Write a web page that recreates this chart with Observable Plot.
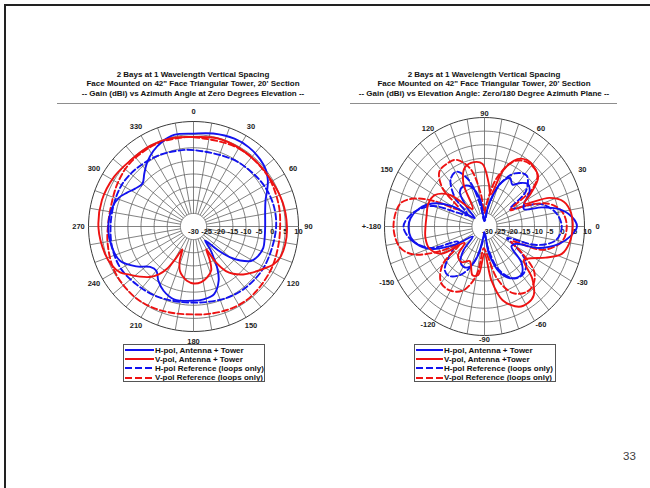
<!DOCTYPE html>
<html>
<head>
<meta charset="utf-8">
<script src="https://cdn.jsdelivr.net/npm/d3@7"></script>
<script src="https://cdn.jsdelivr.net/npm/@observablehq/plot@0.6"></script>
<style>
html,body{margin:0;padding:0;background:#fff;}
#slide{position:relative;width:650px;height:488px;overflow:hidden;background:#fff;font-family:"Liberation Sans",Arial,sans-serif;}
#frame{position:absolute;left:4px;top:4px;width:700px;height:600px;border-top:2px solid #222;border-left:2px solid #222;}
.title{position:absolute;width:340px;text-align:center;font-weight:bold;font-size:8px;line-height:9.3px;color:#111;white-space:nowrap;}
.rule{position:absolute;height:0;border-top:1.5px solid #8d8d8d;}
.chart{position:absolute;}
.legend{position:absolute;border:1px solid #555;background:#fff;overflow:hidden;padding-top:0.5px;box-sizing:border-box;}
.legend .row{display:flex;align-items:center;height:9.2px;font-weight:bold;font-size:8px;color:#111;white-space:nowrap;}
.legend svg{flex:none;display:block;}
#page{position:absolute;left:623px;top:450px;font-size:11.5px;color:#404040;}
</style>
</head>
<body>
<div id="slide">
  <div id="frame"></div>
  <div id="t1" class="title" style="left:23px;top:70px;"></div>
  <div id="t2" class="title" style="left:314px;top:70px;"></div>
  <div class="rule" style="left:57px;top:103px;width:263px;"></div>
  <div class="rule" style="left:350px;top:103px;width:267px;"></div>
  <div id="c1" class="chart" style="left:63px;top:96px;"></div>
  <div id="c2" class="chart" style="left:344px;top:96px;"></div>
  <div id="l1" class="legend" style="left:123px;top:344px;width:142px;height:38px;"></div>
  <div id="l2" class="legend" style="left:414px;top:344px;width:142px;height:38px;"></div>
  <div id="page">33</div>
</div>
<script>
// ---------------- data ----------------
const leftTitle = ["2 Bays at 1 Wavelength Vertical Spacing",
  "Face Mounted on 42\" Face Triangular Tower, 20' Section",
  "-- Gain (dBi) vs Azimuth Angle at Zero Degrees Elevation --"];
const rightTitle = ["2 Bays at 1 Wavelength Vertical Spacing",
  "Face Mounted on 42\" Face Triangular Tower, 20' Section",
  "-- Gain (dBi) vs Elevation Angle: Zero/180 Degree Azimuth Plane --"];
const leftLegend = ["H-pol, Antenna + Tower", "V-pol, Antenna + Tower",
  "H-pol Reference (loops only)", "V-pol Reference (loops only)"];
const rightLegend = ["H-pol, Antenna + Tower", "V-pol, Antenna +Tower",
  "H-pol Reference (loops only)", "V-pol Reference (loops only)"];
const dbTicks = [-30, -25, -20, -15, -10, -5, 0, 5, 10];
const azTickLabels = [[0,"0"],[30,"30"],[60,"60"],[90,"90"],[120,"120"],[150,"150"],
  [180,"180"],[210,"210"],[240,"240"],[270,"270"],[300,"300"],[330,"330"]];
const elTickLabels = [[90,"90"],[60,"60"],[30,"30"],[0,"0"],[-30,"-30"],[-60,"-60"],
  [-90,"-90"],[-120,"-120"],[-150,"-150"],[180,"+-180"],[150,"150"],[120,"120"]];

// Azimuth pattern (degrees clockwise from 0, gain dBi)
const azH_AT = [[0,5.4],[12,6.2],[25,6.9],[35,6.8],[45,6],[52,5],[58,3.4],[64,1.2],[70,-0.8],[78,-2.1],[90,-2.7],[100,-2.5],[107,-2.2],[115,-3],[121,-4.5],[126,-8],[130,-11.7],[134,-17],[138,-22],[141,-23],[144,-19],[147,-16],[150,-12],[155,-7.3],[163,-3.1],[172,-2],[180,-1.7],[195,-1.3],[205,-3],[213,-5.4],[220,-8],[227,-7.4],[235,-3.5],[245,0.9],[256,2.1],[268,2.5],[283,1.8],[291,0.5],[297,-1.6],[303,-3.5],[310,-4.6],[317,-2.5],[324,0.1],[332,2.6],[340,4.5],[348,5.7]];
const azV_AT = [[0,4.1],[15,4.8],[30,4.6],[45,4.4],[60,4.5],[75,5.2],[90,5.6],[101,5.6],[110,5],[116,3.5],[121,1.2],[128,-1.5],[134,-3.7],[140,-6.5],[144,-9],[148,-14],[151,-20],[154,-16],[158,-12],[165,-9.9],[172,-8.6],[180,-8.3],[187,-9.2],[192,-10.5],[197,-12.3],[202,-16],[206,-20.3],[209,-16],[212,-11],[216,-7.5],[221,-4.5],[227,-2],[233,0.5],[238,3],[245,4.5],[253,5.3],[269,6.2],[286,6.3],[302,5.7],[316,4.8],[332,4.9],[346,4.7]];
const azH_REF = [[0,-0.9],[30,-0.4],[50,0.5],[65,1.3],[80,1.6],[95,1.3],[120,1],[140,0.6],[155,0],[170,-0.8],[180,-1],[195,-0.6],[210,0.2],[225,1],[240,2],[255,2],[270,1.6],[285,1.5],[300,1.6],[315,1],[333,0.2],[348,-0.5]];
const azV_REF = [[0,4],[30,4.4],[55,4.2],[75,3.5],[90,3],[105,3.2],[120,3.8],[140,4.5],[155,4.4],[170,3.8],[180,3.5],[192,3.8],[205,4.5],[220,5],[240,4.6],[258,3.4],[270,2.6],[285,2.4],[300,3.3],[315,4.2],[335,4.5],[350,4.2]];

// Elevation pattern (degrees counter-clockwise from 0 = horizon, gain dBi)
const elH_AT = [[-180,0.4],[-172,-0.3],[-165,-3],[-158,-8],[-150,-17],[-142,-24],[-134,-18],[-127,-14],[-120,-13],[-112,-14],[-104,-19],[-96,-26],[-88,-27],[-80,-20],[-70,-12],[-60,-8],[-50,-7],[-42,-10],[-34,-17],[-27,-16],[-20,-7],[-12,0.5],[-6,4.5],[0,7],[6,5],[12,0.5],[17,-6],[22,-13],[28,-12],[35,-8],[42,-6.7],[48,-8.5],[54,-11],[60,-9.5],[68,-13],[76,-20],[84,-26],[92,-28],[100,-20],[110,-14.5],[120,-13],[128,-14],[135,-20],[142,-25],[150,-15],[158,-7.5],[166,-3],[174,-0.3]];
const elV_AT = [[-180,-6.4],[-170,-6],[-160,-6.5],[-150,-10],[-143,-20],[-135,-15],[-125,-14],[-115,-16],[-105,-11.5],[-98,-12],[-90,-20],[-82,-10],[-75,-2],[-65,2.5],[-58,3],[-52,2],[-45,-3],[-38,-10],[-32,-8],[-25,-3],[-18,2.5],[-10,4.5],[0,5.3],[8,5],[16,3],[22,-2],[28,-12],[33,-8],[40,-2],[48,-0.5],[55,-0.3],[62,-2],[70,-8],[78,-18],[84,-14],[92,-7],[100,-6],[110,-7],[118,-12],[126,-22],[133,-20],[140,-12],[150,-7],[160,-6],[170,-6.5]];
const elH_REF = [[-180,2.4],[-170,-0.5],[-160,-7],[-152,-18],[-145,-14],[-135,-7.5],[-128,-7],[-118,-10],[-108,-16],[-98,-24],[-90,-28],[-80,-22],[-70,-13],[-58,-7.5],[-48,-6.7],[-38,-9],[-30,-16],[-25,-20],[-18,-8],[-10,-1],[0,0.9],[10,-1],[20,-6],[27,-15],[32,-18],[38,-9],[48,-4.8],[58,-7],[68,-13],[78,-22],[90,-28],[102,-22],[110,-12],[119,-7],[128,-8],[138,-14],[148,-22],[155,-18],[160,-8],[170,-1]];
const elV_REF = [[-180,6.4],[-167,4.6],[-160,0],[-153,-10],[-147,-18],[-140,-8],[-130,-3],[-120,-2.8],[-110,-5],[-100,-12],[-92,-22],[-85,-20],[-75,-10],[-65,-3],[-55,-0.7],[-48,-1],[-40,-4],[-33,-12],[-27,-18],[-20,-5],[-10,1.5],[0,2.9],[10,1.5],[18,-3],[25,-12],[30,-18],[36,-6],[42,-1.5],[50,-0.7],[58,-1.5],[65,-4],[75,-12],[85,-22],[90,-25],[97,-18],[105,-8],[115,-3],[123,-2.5],[132,-3],[140,-8],[148,-18],[155,-8],[160,0],[166,4.7]];

const BLUE = "#1212ee", RED = "#ee1212";
const styles = [
  {stroke: BLUE, dash: null, legendDash: null},
  {stroke: RED, dash: null, legendDash: null},
  {stroke: BLUE, dash: "6,3", legendDash: "7,3"},
  {stroke: RED, dash: "6,3", legendDash: "7,3"}
];

// ---------------- drawing ----------------
const dbMin = dbTicks[0], dbMax = dbTicks[dbTicks.length - 1];
const fr = db => Math.max(0, (db - dbMin) / (dbMax - dbMin));
const rad = d => d * Math.PI / 180;
const azXY = (a, f) => [f * Math.sin(rad(a)), f * Math.cos(rad(a))];
const elXY = (a, f) => [f * Math.cos(rad(a)), f * Math.sin(rad(a))];

function polar({W, H, rx, ry, toXY, series, tickLabels, labelPx, tickDx}) {
  const font = "Liberation Sans, Arial, sans-serif";
  const ringPts = [];
  for (const d of dbTicks.slice(1)) {
    for (const a of d3.range(0, 361, 3)) {
      const [x, y] = toXY(a, fr(d));
      ringPts.push({ring: d, x, y});
    }
  }
  const spokes = d3.range(0, 360, 10).map(a => {
    const [x1, y1] = toXY(a, fr(dbTicks[1]));
    const [x2, y2] = toXY(a, 1);
    return {x1, y1, x2, y2};
  });
  const labels = tickLabels.map(([a, t]) => {
    const [ux, uy] = toXY(a, 1);
    return {x: ux * labelPx / rx, y: uy * labelPx / ry, t};
  });
  const rticks = dbTicks.map(d => ({x: fr(d), y: 0, t: String(d)}));
  const marks = [
    Plot.line(ringPts.filter(p => p.ring !== dbMax), {x: "x", y: "y", z: "ring", stroke: "#626262", strokeWidth: 0.8}),
    Plot.line(ringPts.filter(p => p.ring === dbMax), {x: "x", y: "y", stroke: "#3a3a3a", strokeWidth: 1}),
    Plot.link(spokes, {x1: "x1", y1: "y1", x2: "x2", y2: "y2", stroke: "#626262", strokeWidth: 0.8}),
    Plot.text(rticks, {x: "x", y: "y", text: "t", dx: tickDx, dy: 5, fontSize: 7.5, fontWeight: "bold", fill: "#222", fontFamily: font})
  ];
  const order = [2, 3, 0, 1];
  for (const i of order) {
    const pts = series[i].map(([a, db]) => { const [x, y] = toXY(a, fr(db)); return {x, y}; });
    marks.push(Plot.line(pts, {x: "x", y: "y", stroke: styles[i].stroke, strokeWidth: 1.9,
      strokeDasharray: styles[i].dash, curve: "catmull-rom-closed"}));
  }
  marks.push(Plot.text(labels, {x: "x", y: "y", text: "t", fontSize: 7.5, fontWeight: "bold", fill: "#222", fontFamily: font}));
  return Plot.plot({
    width: W, height: H, margin: 0,
    x: {domain: [-W / 2 / rx, W / 2 / rx], axis: null},
    y: {domain: [-H / 2 / ry, H / 2 / ry], axis: null},
    style: {background: "transparent", overflow: "visible"},
    marks
  });
}

document.getElementById("c1").append(polar({W: 260, H: 260, rx: 105, ry: 105, toXY: azXY,
  series: [azH_AT, azV_AT, azH_REF, azV_REF], tickLabels: azTickLabels, labelPx: 115, tickDx: 0}));
document.getElementById("c2").append(polar({W: 280, H: 260, rx: 100, ry: 109, toXY: elXY,
  series: [elH_AT, elV_AT, elH_REF, elV_REF], tickLabels: elTickLabels, labelPx: 113, tickDx: 3}));

function title(id, lines) {
  const el = document.getElementById(id);
  lines.forEach(l => { const d = document.createElement("div"); d.textContent = l; el.append(d); });
}
title("t1", leftTitle);
title("t2", rightTitle);

function legend(id, names, sampleW) {
  const el = document.getElementById(id);
  names.forEach((n, i) => {
    const row = document.createElement("div");
    row.className = "row";
    const svg = d3.create("svg").attr("width", sampleW).attr("height", 8);
    svg.append("line").attr("x1", 1).attr("x2", sampleW - 1).attr("y1", 4).attr("y2", 4)
      .attr("stroke", styles[i].stroke).attr("stroke-width", 2)
      .attr("stroke-dasharray", styles[i].legendDash);
    row.append(svg.node());
    const s = document.createElement("span");
    s.textContent = n;
    row.append(s);
    el.append(row);
  });
}
legend("l1", leftLegend, 31);
legend("l2", rightLegend, 29);
</script>
</body>
</html>
